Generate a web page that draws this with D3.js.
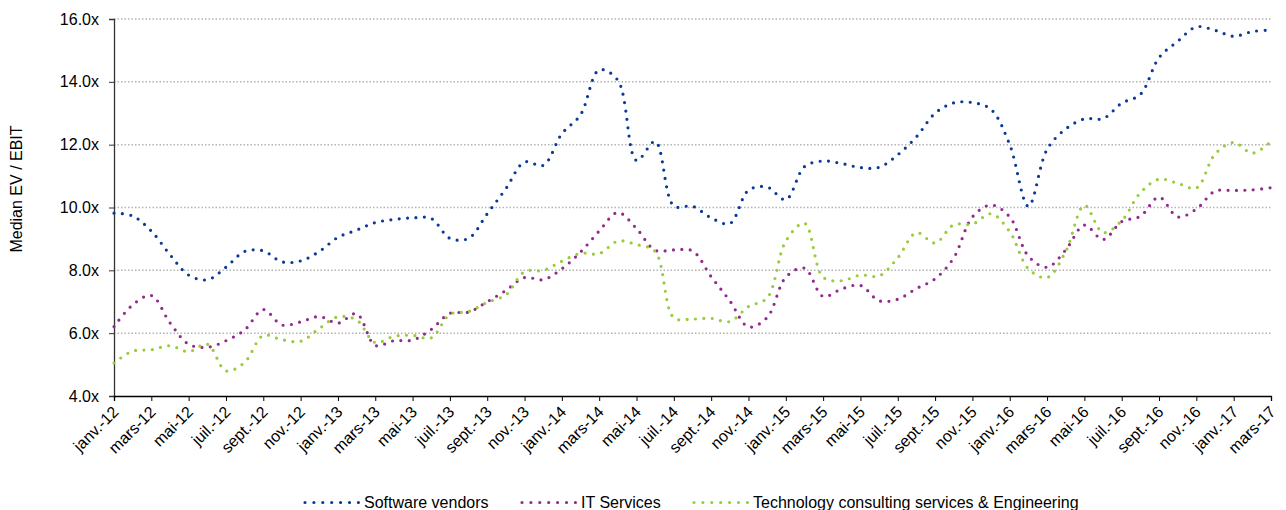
<!DOCTYPE html>
<html>
<head>
<meta charset="utf-8">
<script src="https://cdn.jsdelivr.net/npm/d3@7"></script>
<style>
  body { margin: 0; background: #fff; }
  svg text { font-family: "Liberation Sans", Arial, sans-serif; fill: #000; }
</style>
</head>
<body>
<svg id="chart" width="1286" height="510"></svg>
<script>
// monthly tick labels (every 2 months, janv.-12 .. mars-17)
var tickLabels = ["janv.-12","mars-12","mai-12","juil.-12","sept.-12","nov.-12",
  "janv.-13","mars-13","mai-13","juil.-13","sept.-13","nov.-13",
  "janv.-14","mars-14","mai-14","juil.-14","sept.-14","nov.-14",
  "janv.-15","mars-15","mai-15","juil.-15","sept.-15","nov.-15",
  "janv.-16","mars-16","mai-16","juil.-16","sept.-16","nov.-16",
  "janv.-17","mars-17"];

// monthly medians, janv.-12 .. mars-17 (63 months)
var softwareVendors = [9.82,9.73,9.25,8.5,7.85,7.7,8.1,8.6,8.62,8.27,8.3,8.6,
  9.05,9.28,9.52,9.62,9.67,9.65,9.02,9.02,9.8,10.6,11.45,11.34,
  12.35,12.95,14.38,14.05,11.5,12.1,10.05,10.04,9.67,9.49,10.55,10.65,
  10.25,11.3,11.48,11.4,11.27,11.28,11.68,12.25,13.0,13.33,13.34,13.12,
  12.0,10.04,11.85,12.5,12.82,12.83,13.32,13.6,14.77,15.29,15.75,15.64,
  15.45,15.6,15.65];
var itServices = [6.21,6.9,7.2,6.33,5.65,5.55,5.76,6.1,6.75,6.26,6.36,6.53,
  6.32,6.62,5.61,5.76,5.78,6.12,6.63,6.67,7.0,7.36,7.77,7.7,
  8.05,8.58,9.25,9.84,9.33,8.64,8.65,8.62,7.8,7.03,6.2,6.5,
  7.78,8.07,7.17,7.41,7.52,7.03,7.08,7.42,7.73,8.4,9.7,10.08,
  9.7,8.45,8.1,8.65,9.44,8.98,9.55,9.72,10.33,9.7,9.95,10.52,
  10.54,10.56,10.63];
var techConsulting = [5.05,5.43,5.47,5.6,5.41,5.65,4.8,5.07,5.93,5.79,5.74,6.15,
  6.52,6.42,5.7,5.9,5.93,5.85,6.6,6.69,6.98,7.22,7.96,8.0,
  8.29,8.54,8.53,8.93,8.82,8.6,6.49,6.45,6.47,6.37,6.85,7.12,
  8.93,9.5,7.78,7.67,7.85,7.82,8.4,9.2,8.87,9.45,9.47,9.8,
  9.23,8.05,7.77,8.6,10.07,9.2,9.58,10.47,10.9,10.77,10.62,11.7,
  12.07,11.73,12.1];

var seriesNames = ["Software vendors", "IT Services", "Technology consulting services & Engineering"];
var seriesColors = ["#0a3a96", "#922a8e", "#9acb3c"];
var yTicks = [4, 6, 8, 10, 12, 14, 16];

var svg = d3.select("#chart");
var plotLeft = 114, plotRight = 1271, plotTop = 19, plotBottom = 396;

var x = d3.scaleLinear().domain([0, softwareVendors.length - 1]).range([plotLeft, plotRight]);
var y = d3.scaleLinear().domain([4, 16]).range([plotBottom, plotTop]);

// gridlines
svg.append("g")
  .selectAll("line")
  .data(yTicks.slice(1))
  .enter().append("line")
  .attr("x1", plotLeft).attr("x2", plotRight)
  .attr("y1", d => y(d)).attr("y2", d => y(d))
  .attr("stroke", "#b4b4b4")
  .attr("stroke-width", 1.5)
  .attr("stroke-dasharray", "1.5,2");

// y axis
var yAxis = svg.append("g")
  .attr("transform", `translate(${plotLeft},0)`)
  .call(d3.axisLeft(y).tickValues(yTicks).tickSize(5).tickPadding(10)
    .tickFormat(d => d.toFixed(1) + "x"));
yAxis.select(".domain").attr("stroke", "#333").attr("stroke-width", 1.3);
yAxis.selectAll(".tick line").attr("stroke", "#333");
yAxis.selectAll("text").style("font-size", "16px");

// x axis
var xAxis = svg.append("g")
  .attr("transform", `translate(0,${plotBottom})`)
  .call(d3.axisBottom(x).tickValues(d3.range(0, 63, 2)).tickSize(5)
    .tickFormat((d, i) => tickLabels[i]));
xAxis.select(".domain").attr("stroke", "#000").attr("stroke-width", 1.3);
xAxis.selectAll(".tick line").attr("stroke", "#000");
xAxis.selectAll("text")
  .style("font-size", "16px")
  .attr("text-anchor", "end")
  .attr("x", 0).attr("y", 0).attr("dy", 0)
  .attr("transform", "translate(5,17) rotate(-45)");

// y axis title
svg.append("text")
  .attr("transform", "translate(22,189) rotate(-90)")
  .attr("text-anchor", "middle")
  .style("font-size", "16px")
  .text("Median EV / EBIT");

// lines
var line = d3.line()
  .x((d, i) => x(i))
  .y(d => y(d))
  .curve(d3.curveCatmullRom.alpha(0.5));

[softwareVendors, itServices, techConsulting].forEach((vals, k) => {
  svg.append("path")
    .datum(vals)
    .attr("d", line)
    .attr("fill", "none")
    .attr("stroke", seriesColors[k])
    .attr("stroke-width", 3.2)
    .attr("stroke-linecap", "round")
    .attr("stroke-dasharray", "0,8.4");
});

// legend
var legendX = [305, 522, 694];
var legend = svg.append("g");
seriesNames.forEach((name, k) => {
  legend.append("line")
    .attr("x1", legendX[k]).attr("x2", legendX[k] + 54)
    .attr("y1", 502.5).attr("y2", 502.5)
    .attr("stroke", seriesColors[k])
    .attr("stroke-width", 3.2)
    .attr("stroke-linecap", "round")
    .attr("stroke-dasharray", "0,8.9");
  legend.append("text")
    .attr("x", legendX[k] + 59)
    .attr("y", 508)
    .style("font-size", "16px")
    .text(name);
});
</script>
</body>
</html>
